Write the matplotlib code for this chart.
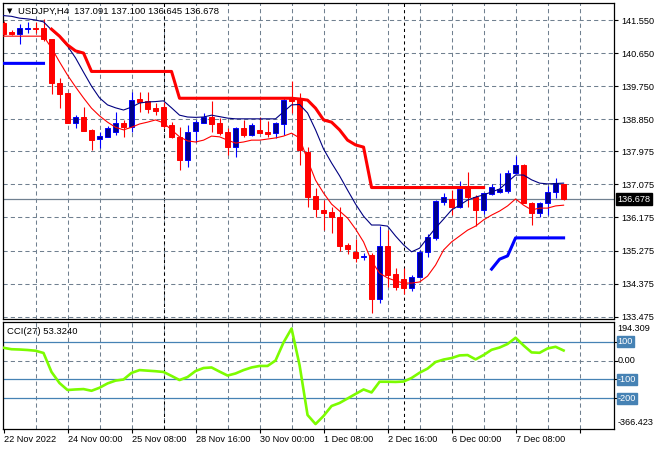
import numpy as np
import matplotlib
matplotlib.use('Agg')
import matplotlib.pyplot as plt
from matplotlib.transforms import blended_transform_factory

plt.rcParams['font.family'] = ['Liberation Sans', 'DejaVu Sans']
plt.rcParams['font.size'] = 6.6

# --- data (USDJPY H4) ---
title = 'USDJPY,H4  137.091 137.100 136.645 136.678'
cci_title = 'CCI(27) 53.3240'

opens = [141.48, 141.23, 141.16, 141.31, 141.33, 141.33, 141.02, 139.83, 139.56, 138.75,
         138.92, 138.56, 138.30, 138.37, 138.51, 138.75, 138.64, 139.39, 139.35, 139.15,
         139.17, 138.69, 138.37, 137.74, 138.52, 138.75, 138.92, 138.74, 138.50, 138.10,
         138.60, 138.42, 138.56, 138.50, 138.47, 138.72, 139.44, 139.39, 137.97, 136.76,
         136.38, 136.33, 136.20, 135.43, 135.24, 135.09, 135.15, 133.95, 135.39, 134.63,
         134.49, 134.25, 134.55, 135.23, 135.61, 136.60, 136.67, 136.47, 136.97, 136.74,
         136.38, 136.81, 136.88, 136.90, 137.38, 137.60, 136.58, 136.31, 136.56, 136.86,
         137.091]
highs = [141.52, 141.28, 141.44, 141.50, 141.50, 141.58, 141.03, 139.97, 139.57, 138.96,
         139.18, 138.57, 138.51, 138.66, 139.05, 138.83, 139.58, 139.60, 139.60, 139.29,
         139.33, 138.78, 138.65, 138.69, 138.83, 139.01, 139.35, 138.87, 138.60, 138.65,
         138.83, 138.74, 138.92, 138.81, 138.78, 139.42, 139.90, 139.56, 138.10, 136.97,
         136.65, 136.47, 136.47, 135.47, 135.58, 135.20, 135.20, 135.95, 135.83, 134.79,
         134.79, 134.61, 135.29, 135.72, 136.65, 136.83, 136.92, 137.18, 137.40, 136.79,
         136.85, 137.09, 137.38, 137.47, 137.85, 137.63, 136.61, 136.61, 137.04, 137.24,
         137.100]
lows = [141.14, 141.13, 140.89, 141.19, 141.19, 140.99, 139.53, 139.15, 138.74, 138.61,
        138.53, 138.01, 138.06, 138.36, 138.42, 138.37, 138.51, 139.05, 139.01, 138.96,
        138.60, 138.33, 137.47, 137.56, 138.24, 138.74, 138.51, 138.42, 137.88, 137.83,
        138.37, 138.39, 138.47, 138.37, 138.33, 138.42, 139.01, 137.60, 136.47, 136.18,
        135.83, 135.74, 135.27, 135.18, 134.96, 135.02, 133.58, 133.84, 134.29, 134.20,
        134.09, 134.18, 134.54, 135.11, 135.56, 136.51, 136.24, 136.42, 136.47, 135.95,
        136.27, 136.79, 136.83, 136.83, 137.35, 136.56, 135.97, 136.20, 136.24, 136.70,
        136.645]
closes = [141.17, 141.17, 141.33, 141.33, 141.30, 141.02, 139.83, 139.53, 138.75, 138.90,
          138.54, 138.28, 138.39, 138.62, 138.74, 138.64, 139.37, 139.33, 139.12, 139.08,
          138.66, 138.36, 137.74, 138.51, 138.77, 138.90, 138.72, 138.48, 138.10, 138.60,
          138.42, 138.69, 138.48, 138.46, 138.75, 139.37, 139.34, 138.01, 136.74, 136.40,
          136.31, 136.18, 135.41, 135.32, 135.08, 135.13, 133.95, 135.39, 134.60, 134.29,
          134.25, 134.56, 135.24, 135.64, 136.63, 136.72, 136.47, 136.94, 136.74, 136.38,
          136.83, 137.01, 136.94, 137.38, 137.60, 136.58, 136.31, 136.58, 136.86, 137.11,
          136.678]

ma_fast = [141.67, 141.65, 141.60, 141.58, 141.55, 141.50, 141.28, 141.09, 140.84, 140.52,
           140.13, 139.75, 139.43, 139.24, 139.16, 139.10, 139.18, 139.29, 139.32, 139.33,
           139.35, 139.16, 138.96, 138.91, 138.90, 138.91, 138.96, 138.92, 138.88, 138.86,
           138.86, 138.86, 138.86, 138.86, 138.86, 139.05, 139.24, 139.25, 139.02, 138.56,
           138.04, 137.66, 137.31, 136.92, 136.54, 136.21, 135.97, 135.97, 135.94, 135.67,
           135.43, 135.24, 135.34, 135.62, 135.89, 136.13, 136.38, 136.51, 136.65, 136.73,
           136.79, 136.87, 136.95, 137.14, 137.33, 137.33, 137.20, 137.11, 137.09, 137.10,
           137.11]
ma_slow = [141.11, 141.11, 141.11, 141.11, 141.11, 141.11, 140.79, 140.41, 140.05, 139.73,
           139.43, 139.15, 138.94, 138.77, 138.63, 138.56, 138.63, 138.72, 138.77, 138.83,
           138.75, 138.56, 138.37, 138.26, 138.23, 138.28, 138.39, 138.37, 138.28, 138.20,
           138.23, 138.28, 138.28, 138.31, 138.34, 138.39, 138.47, 138.34, 137.74, 137.19,
           136.84, 136.54, 136.35, 136.16, 135.86, 135.51, 134.99, 134.66, 134.53, 134.45,
           134.39, 134.39, 134.42, 134.58, 134.88, 135.29, 135.51, 135.67, 135.83, 135.94,
           136.11, 136.24, 136.35, 136.49, 136.68, 136.51, 136.38, 136.43, 136.43, 136.49,
           136.51]
nan = np.nan
stop_upper = [nan] * 6 + [141.30, 141.11, 140.87, 140.71, 140.65] + [140.15] * 11 + \
             [139.42] * 15 + [139.40, 139.37, 139.15, 138.83, 138.77, 138.56, 138.28,
                              138.15, 138.09] + [136.99] * 15 + [nan] * 10
stop_lower = [140.37] * 6 + [nan] * 55 + [134.77, 135.04, 135.13, 135.62] + [135.62] * 6

cci = [67.6, 60, 58.5, 55.9, 52, 40, -61, -120, -157, -154,
       -152, -161, -145, -122, -107, -101, -66, -51, -54, -57,
       -61, -82, -104, -88, -56, -40, -37, -59, -80, -69,
       -51, -37, -29, -29, 0, 96, 170, -24, -290, -338,
       -295, -242, -226, -202, -178, -154, -170, -113, -113, -114,
       -112, -93, -65, -43, -8, 5, 13, 27, 29, 6,
       29, 57, 69, 88, 121, 80, 43, 41, 64, 73, 53.3]

price_levels = [141.550, 140.650, 139.750, 138.850, 137.975, 137.075, 136.175, 135.275, 134.375, 133.475]
price_labels = ['141.550', '140.650', '139.750', '138.850', '137.975', '137.075', '136.175', '135.275', '134.375', '133.475']
time_bars = [0, 8, 16, 24, 32, 40, 48, 56, 64]
time_labels = ['22 Nov 2022', '24 Nov 00:00', '25 Nov 08:00', '28 Nov 16:00', '30 Nov 00:00',
               '1 Dec 08:00', '2 Dec 16:00', '6 Dec 00:00', '7 Dec 08:00']
separator_bars = [20, 50]
cci_levels = [100, -100, -200]
cci_max, cci_min = '194.309', '-366.423'

# --- layout (pixels of a 660x450 image) ---
W, H = 660, 450
fig = plt.figure(figsize=(6.6, 4.5), dpi=100)
L, R = 2.7, 614
ax = fig.add_axes([L / W, 1 - 319 / H, (R - L) / W, (319 - 2.7) / H])
ax2 = fig.add_axes([L / W, 1 - 428.5 / H, (R - L) / W, (428.5 - 321.7) / H])

grid_c = '#708090'
dash = (0, (4, 3))
xlim = (-0.1, 76.3)

o = np.array(opens); h = np.array(highs); lo = np.array(lows); c = np.array(closes)
x = np.arange(len(o))
up = c >= o
dn = ~up

# grid
for a in (ax, ax2):
    for gx in range(4, 76, 4):
        a.axvline(gx, color=grid_c, lw=0.75, ls=dash, zorder=0)
    for sx in separator_bars:
        a.axvline(sx, color='black', lw=0.75, ls=(0, (3, 3)), zorder=0.5)
    a.set_xlim(*xlim)
    for s in a.spines.values():
        s.set_linewidth(0.9)
for p in price_levels:
    ax.axhline(p, color=grid_c, lw=0.75, ls=dash, zorder=0)
ax.axhline(c[-1], color=grid_c, lw=0.9, zorder=0.5)

# candles
ax.vlines(x[up], lo[up], h[up], color='#0000FF', lw=0.8, zorder=2)
ax.vlines(x[dn], lo[dn], h[dn], color='#FF0000', lw=0.8, zorder=2)
ax.bar(x[up], (c - o)[up], bottom=o[up], width=0.62, color='#00008B',
       edgecolor='#0000FF', lw=0.7, zorder=3)
ax.bar(x[dn], (o - c)[dn], bottom=c[dn], width=0.62, color='#FF0000',
       edgecolor='#FF0000', lw=0.7, zorder=3)

# indicators
ax.plot(x, ma_fast, color='#000080', lw=0.8, zorder=4)
ax.plot(x, ma_slow, color='#FF0000', lw=0.8, zorder=4)
ax.plot(x, stop_upper, color='#FF0000', lw=2.2, zorder=4)
ax.plot(x, stop_lower, color='#0000FF', lw=2.2, zorder=4)

ax.set_ylim(133.412, 142.021)
ax.set_xticks([])
ax.yaxis.tick_right()
ax.set_yticks(price_levels, price_labels)
ax.tick_params(axis='y', length=3, width=0.8, pad=2, labelsize=6.6)

tr = blended_transform_factory(ax.transAxes, ax.transData)
ax.text(1.006, c[-1], '136.678', transform=tr, color='white', ha='left', va='center',
        fontsize=6.6, bbox=dict(fc='black', ec='black', pad=1.2), clip_on=False)

fig.text(10 / W, 1 - 11 / H, '\u25bc', fontsize=5, ha='center', va='center',
         family=['DejaVu Sans'])
fig.text(18 / W, 1 - 11 / H, title, fontsize=6.8, ha='left', va='center')

# CCI panel
ax2.plot(x, cci, color='#7CFC00', lw=1.9, zorder=4)
ax2.axhline(0, color=grid_c, lw=0.75, ls=dash, zorder=0)
for lv in cci_levels:
    ax2.axhline(lv, color='#4682B4', lw=0.9, zorder=1)
ax2.set_ylim(-361.7, 206.4)
ax2.yaxis.tick_right()
ax2.set_yticks([100, 0, -100, -200], [])
ax2.tick_params(axis='y', length=3, width=0.8)
tr2 = blended_transform_factory(ax2.transAxes, ax2.transData)
for lv in cci_levels:
    ax2.text(1.006, lv, str(lv), transform=tr2, color='white', ha='left', va='center',
             fontsize=6.6, bbox=dict(fc='#4682B4', ec='#4682B4', pad=0.8), clip_on=False)
ax2.text(1.006, 0, '0.00', transform=tr2, ha='left', va='center', fontsize=6.6, clip_on=False)
ax2.text(1.006, 0.932, cci_max, transform=ax2.transAxes, ha='left', va='center',
         fontsize=6.6, clip_on=False)
ax2.text(1.006, 0.058, cci_min, transform=ax2.transAxes, ha='left', va='center',
         fontsize=6.6, clip_on=False)
fig.text(7.3 / W, 1 - 331.7 / H, cci_title, fontsize=6.8, ha='left', va='center')

ticks = list(range(0, 76, 8))
ax2.set_xticks(ticks, time_labels + [''] * (len(ticks) - len(time_labels)))
ax2.tick_params(axis='x', length=3, width=0.8, pad=1.5, labelsize=6.6)
for lbl in ax2.get_xticklabels():
    lbl.set_ha('left')

fig.savefig('out.png', dpi=100)
